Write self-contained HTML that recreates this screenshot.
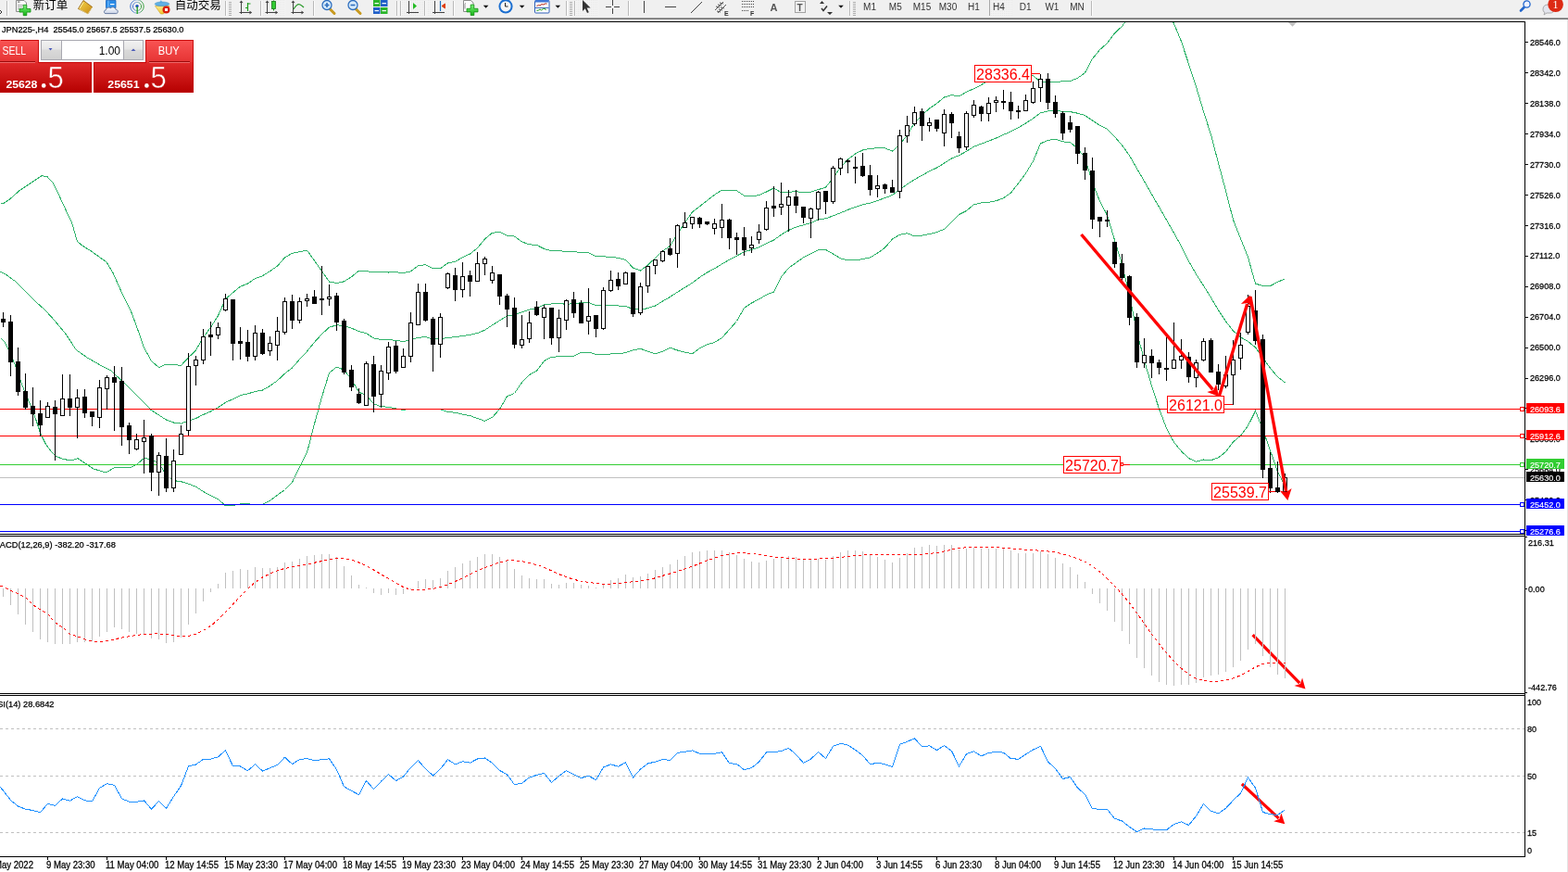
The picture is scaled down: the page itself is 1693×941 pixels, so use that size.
<!DOCTYPE html><html><head><meta charset="utf-8"><title>JPN225 H4</title>
<style>
html,body{margin:0;padding:0;background:#fff;width:1693px;height:941px;overflow:hidden}
svg{display:block;font-family:'Liberation Sans','Noto Sans CJK SC',sans-serif}
.ax{font-size:9.5px;fill:#000;white-space:pre;stroke:#000;stroke-width:0.25px}
.tf{font-size:10px;fill:#333}
</style></head><body>
<svg width="1693" height="941" viewBox="0 0 1693 941">
<defs>
<linearGradient id="gUp" x1="0" y1="0" x2="0" y2="1"><stop offset="0" stop-color="#f95454"/><stop offset="1" stop-color="#e53232"/></linearGradient>
<linearGradient id="gLo" x1="0" y1="0" x2="0" y2="1"><stop offset="0" stop-color="#e02a2a"/><stop offset="1" stop-color="#b50000"/></linearGradient>
<linearGradient id="gSp" x1="0" y1="0" x2="0" y2="1"><stop offset="0" stop-color="#f2f2f2"/><stop offset="0.45" stop-color="#e6e6e6"/><stop offset="0.5" stop-color="#d9d9d9"/><stop offset="1" stop-color="#d0d0d0"/></linearGradient>
<clipPath id="cMain"><rect x="0" y="24" width="1646" height="552"/></clipPath>
<clipPath id="cMacd"><rect x="0" y="579" width="1646" height="169"/></clipPath>
<clipPath id="cRsi"><rect x="0" y="751" width="1646" height="173"/></clipPath>
<linearGradient id="gGreen" x1="0" y1="0" x2="0" y2="1"><stop offset="0" stop-color="#7cf07c"/><stop offset="1" stop-color="#14b414"/></linearGradient>
<linearGradient id="gGold" x1="0" y1="0" x2="1" y2="1"><stop offset="0" stop-color="#f7d84a"/><stop offset="1" stop-color="#c98a16"/></linearGradient>
<linearGradient id="gCloud" x1="0" y1="0" x2="0" y2="1"><stop offset="0" stop-color="#ffffff"/><stop offset="1" stop-color="#c9d3e6"/></linearGradient>
<linearGradient id="gSig" x1="0" y1="0" x2="1" y2="0"><stop offset="0" stop-color="#3a6fd0"/><stop offset="0.5" stop-color="#9ab8d8"/><stop offset="1" stop-color="#3aa03a"/></linearGradient>
<linearGradient id="gYel" x1="0" y1="0" x2="0" y2="1"><stop offset="0" stop-color="#fbe98a"/><stop offset="1" stop-color="#f2c630"/></linearGradient>
<linearGradient id="gLoU" gradientUnits="userSpaceOnUse" x1="0" y1="67" x2="0" y2="100"><stop offset="0" stop-color="#e02a2a"/><stop offset="1" stop-color="#b50000"/></linearGradient>
<pattern id="pDot" width="2" height="2" patternUnits="userSpaceOnUse"><rect width="2" height="2" fill="#f3f3f3"/><rect width="1" height="1" fill="#e8e8e8"/></pattern>
</defs>

<rect x="0" y="0" width="1693" height="19" fill="#f0f0f0"/>
<rect x="0" y="19" width="1693" height="1" fill="#a0a0a0"/><rect x="0" y="20" width="1693" height="1" fill="#6e6e6e"/>
<rect x="1692" y="21" width="1" height="920" fill="#e3e3e3"/>
<path d="M0 11l2 2-2 2" stroke="#333" fill="none" stroke-width="1"/>
<rect x="7" y="1" width="1" height="16" fill="#b9b9b9"/><rect x="8" y="1" width="1" height="16" fill="#fdfdfd"/>
<g><path d="M17.5 0.5h8.5l2.5 2.5v9.5h-11z" fill="#fbfbfb" stroke="#8c8c8c"/><rect x="19" y="1.5" width="2.5" height="1.2" fill="#777"/><rect x="19" y="5" width="6" height="0.9" fill="#999"/><rect x="19" y="7" width="5" height="0.9" fill="#999"/><rect x="19" y="9" width="3" height="0.9" fill="#999"/><path d="M21 9.5h4.2v-4.2h3.6v4.2h4.2v3.6h-4.2v3.6h-3.6v-3.6h-4.2z" fill="url(#gGreen)" stroke="#0f8f0f" stroke-width="0.8"/></g>
<text x="35.8" y="9.8" font-size="12.5px" fill="#000" font-family="'Liberation Sans','Noto Sans CJK SC',sans-serif">新订单</text>
<path d="M84.5 9.5L90 0.5L99.5 7.5L95 14.8Z" fill="url(#gGold)" stroke="#9a6410" stroke-width="0.9" stroke-linejoin="round"/><path d="M85.5 9.8l9.3 5.2 4.8-7" fill="none" stroke="#f3e3a0" stroke-width="0.8"/><path d="M86 9l4-6.5" stroke="#fff3b0" stroke-width="1"/>
<path d="M114.5 0.5h10.5v8h-10.5z" fill="#2b8de8" stroke="#1866c0" stroke-width="0.8"/><path d="M117 0.5v8" stroke="#7fc0ff" stroke-width="1"/><rect x="119" y="4" width="4.5" height="1.2" fill="#fff"/><path d="M114 14.6c-2 0-2.3-3.6 0.3-3.8c0.3-2.2 3-3.6 5-2.1c1.8-1.6 5.2-1 5.6 1.6c2.6-0.2 3.4 3.9 0.6 4.3z" fill="url(#gCloud)" stroke="#5a6f98" stroke-width="0.9"/>
<circle cx="148" cy="7" r="7.2" fill="none" stroke="url(#gSig)" stroke-width="1"/><circle cx="148" cy="7" r="4.6" fill="none" stroke="url(#gSig)" stroke-width="1"/><circle cx="148" cy="6.6" r="1.7" fill="#1d4fc0"/><path d="M148.2 7v8" stroke="#1ea01e" stroke-width="1.3"/>
<path d="M167.5 6.5h15.5l-6.5 8.5h-3z" fill="url(#gYel)" stroke="#c8a020" stroke-width="0.6"/><path d="M171.5 4l2.3-4 2.5 4z" fill="#6cb8e8"/><ellipse cx="175" cy="4.3" rx="7.8" ry="2.3" fill="#5fb0e4" stroke="#3a8ac0" stroke-width="0.5"/><circle cx="179.5" cy="10.5" r="4" fill="#d8200c"/><rect x="178" y="9" width="3" height="3" fill="#fff"/>
<text x="188.8" y="9.8" font-size="12.5px" fill="#000" font-family="'Liberation Sans','Noto Sans CJK SC',sans-serif">自动交易</text>
<rect x="243" y="1" width="1" height="16" fill="#b9b9b9"/><rect x="244" y="1" width="1" height="16" fill="#fdfdfd"/>
<rect x="247" y="2" width="3" height="1" fill="#b0b0b0"/>
<rect x="247" y="4" width="3" height="1" fill="#b0b0b0"/>
<rect x="247" y="6" width="3" height="1" fill="#b0b0b0"/>
<rect x="247" y="8" width="3" height="1" fill="#b0b0b0"/>
<rect x="247" y="10" width="3" height="1" fill="#b0b0b0"/>
<rect x="247" y="12" width="3" height="1" fill="#b0b0b0"/>
<rect x="247" y="14" width="3" height="1" fill="#b0b0b0"/>
<rect x="247" y="16" width="3" height="1" fill="#b0b0b0"/>
<path d="M260.5 1v14M258.5 13.5h13" stroke="#444" stroke-width="1" fill="none"/><path d="M260.5 0.5l-2 2.5h4z M272 13.5l-2.5-2v4z" fill="#444"/>
<path d="M267.5 3v9M265 8.5h2.5M267.5 4h3" stroke="#1a9a1a" stroke-width="1.2" fill="none"/>
<rect x="281" y="1" width="1" height="16" fill="#b9b9b9"/><rect x="282" y="1" width="1" height="16" fill="#fdfdfd"/>
<rect x="283" y="0" width="25" height="17" fill="url(#pDot)"/>
<path d="M288.5 1v14M286.5 13.5h13" stroke="#444" stroke-width="1" fill="none"/><path d="M288.5 0.5l-2 2.5h4z M300 13.5l-2.5-2v4z" fill="#444"/>
<path d="M295.5 0.5v11" stroke="#1a8a1a"/><rect x="293.5" y="1.5" width="4" height="8" fill="#33cc33" stroke="#187818" stroke-width="0.8"/>
<path d="M316.5 1v14M314.5 13.5h13" stroke="#444" stroke-width="1" fill="none"/><path d="M316.5 0.5l-2 2.5h4z M328 13.5l-2.5-2v4z" fill="#444"/>
<path d="M317 10c3-5 5-6 7-5s3 2 4 3" stroke="#2a9a2a" stroke-width="1.2" fill="none"/>
<rect x="338" y="1" width="1" height="16" fill="#b9b9b9"/><rect x="339" y="1" width="1" height="16" fill="#fdfdfd"/>
<path d="M356 9.5l5 5" stroke="#c89a20" stroke-width="3" stroke-linecap="round"/><circle cx="353" cy="5.5" r="5" fill="#d8ecfb" stroke="#2f6fbf" stroke-width="1.3"/><path d="M350.5 5.5h5" stroke="#2f6fbf" stroke-width="1.6"/><path d="M353 3v5" stroke="#2f6fbf" stroke-width="1.6"/>
<path d="M384 9.5l5 5" stroke="#c89a20" stroke-width="3" stroke-linecap="round"/><circle cx="381" cy="5.5" r="5" fill="#d8ecfb" stroke="#2f6fbf" stroke-width="1.3"/><path d="M378.5 5.5h5" stroke="#2f6fbf" stroke-width="1.6"/>
<rect x="403" y="0" width="7.5" height="7" fill="#2bb52b"/><rect x="411" y="0" width="7.5" height="7" fill="#2160c8"/><rect x="403" y="8" width="7.5" height="7" fill="#2160c8"/><rect x="411" y="8" width="7.5" height="7" fill="#2bb52b"/><rect x="404.5" y="3" width="4.5" height="1.2" fill="#fff"/><rect x="412.5" y="3" width="4.5" height="1.2" fill="#fff"/><rect x="404.5" y="11" width="4.5" height="1.2" fill="#fff"/><rect x="412.5" y="11" width="4.5" height="1.2" fill="#fff"/>
<rect x="428" y="1" width="1" height="16" fill="#b9b9b9"/><rect x="429" y="1" width="1" height="16" fill="#fdfdfd"/>
<rect x="434" y="0" width="23" height="17" fill="url(#pDot)"/><rect x="461" y="0" width="25" height="17" fill="url(#pDot)"/>
<rect x="432" y="1" width="1" height="16" fill="#b9b9b9"/><rect x="433" y="1" width="1" height="16" fill="#fdfdfd"/>
<rect x="458" y="1" width="1" height="16" fill="#b9b9b9"/><rect x="459" y="1" width="1" height="16" fill="#fdfdfd"/>
<path d="M441.5 1v14M439 13.5h13" stroke="#444" fill="none"/><path d="M446 3v7l4-3.5z" fill="#22bb22"/>
<path d="M469.5 1v14M467 13.5h13" stroke="#444" fill="none"/><path d="M475.5 1v11" stroke="#1c6fc0" stroke-width="1.2"/><path d="M477 6.5l3.5-2.5v5z M477 6.5h3.5" fill="#e04010" stroke="#e04010"/>
<rect x="489" y="1" width="1" height="16" fill="#b9b9b9"/><rect x="490" y="1" width="1" height="16" fill="#fdfdfd"/>
<path d="M500.5 0.5h8l2.5 2.5v9.5h-10.5z" fill="#fbfbfb" stroke="#8c8c8c"/><path d="M503 3.5c-1 0-1 1-1 2v4" stroke="#777" stroke-width="0.8" fill="none"/><path d="M504 9.3h4.2v-4.2h3.6v4.2h4.2v3.6h-4.2v3.6h-3.6v-3.6h-4.2z" fill="url(#gGreen)" stroke="#0f8f0f" stroke-width="0.8"/>
<path d="M521.8000000000001 5.8h5.6l-2.8 3z" fill="#111"/>
<circle cx="546" cy="6.8" r="7.6" fill="#1c6fd0"/><circle cx="546" cy="6.8" r="5.6" fill="#f6f6f6"/><path d="M545.5 3v4h3" stroke="#222" stroke-width="1" fill="none"/><rect x="545" y="-1" width="2" height="1.5" fill="#1c6fd0"/>
<path d="M560.8000000000001 5.8h5.6l-2.8 3z" fill="#111"/>
<rect x="577.5" y="0.5" width="15.5" height="13.5" rx="1" fill="#fff" stroke="#2f5fb8"/><rect x="578" y="0" width="14.5" height="2.5" fill="#3f78d8"/><path d="M578 8.5h14.5" stroke="#2f5fb8" stroke-width="0.9"/><path d="M579.5 6.5l2-1 1.5 0.5 2-1.5 1.5 0.5 2-1 2 0" stroke="#b02010" fill="none" stroke-width="1"/><path d="M579.5 11.5l2-0.5 1.5-1 1.5 1 2-1.5 1.5-0.5 1.5 2" stroke="#1a9a1a" fill="none" stroke-width="1"/>
<path d="M599.5 5.8h5.6l-2.8 3z" fill="#111"/>
<rect x="611" y="1" width="1" height="16" fill="#b9b9b9"/><rect x="612" y="1" width="1" height="16" fill="#fdfdfd"/>
<rect x="615" y="2" width="3" height="1" fill="#b0b0b0"/>
<rect x="615" y="4" width="3" height="1" fill="#b0b0b0"/>
<rect x="615" y="6" width="3" height="1" fill="#b0b0b0"/>
<rect x="615" y="8" width="3" height="1" fill="#b0b0b0"/>
<rect x="615" y="10" width="3" height="1" fill="#b0b0b0"/>
<rect x="615" y="12" width="3" height="1" fill="#b0b0b0"/>
<rect x="615" y="14" width="3" height="1" fill="#b0b0b0"/>
<rect x="615" y="16" width="3" height="1" fill="#b0b0b0"/>
<rect x="620" y="1" width="1" height="16" fill="#b9b9b9"/><rect x="621" y="1" width="1" height="16" fill="#fdfdfd"/>
<rect x="622" y="0" width="24" height="17" fill="url(#pDot)"/>
<path d="M629 0v12l2.8-2.8 2.2 4.8 1.8-0.8-2.2-4.6h4z" fill="#333"/>
<path d="M661.5 0v15M654 7.5h15" stroke="#444" fill="none"/><rect x="660" y="6" width="3" height="3" fill="#f0f0f0"/>
<rect x="678" y="1" width="1" height="16" fill="#b9b9b9"/><rect x="679" y="1" width="1" height="16" fill="#fdfdfd"/>
<path d="M695.5 1v13" stroke="#444"/><path d="M718 7.5h12" stroke="#444"/><path d="M746 14l12-12" stroke="#444"/>
<path d="M772 11l9-9M775 14l9-9M773 7l4 1M775 5l4 1M777 3l4 1M774 12l4 1M776 10l4 1M778 8l4 1" stroke="#444" fill="none" stroke-width="0.9"/><text x="782" y="16.5" font-size="7px" font-weight="bold" fill="#333">E</text>
<path d="M801 1.5h13M801 4.5h13M801 7.5h13M801 11.5h8" stroke="#444" stroke-dasharray="1 1" fill="none"/><text x="810" y="16.5" font-size="7px" font-weight="bold" fill="#333">F</text>
<text x="831.5" y="11.5" font-size="11px" font-weight="bold" fill="#555">A</text>
<rect x="858.5" y="1.5" width="11" height="12" fill="none" stroke="#555" stroke-dasharray="1 1"/><text x="860.5" y="11.5" font-size="10px" font-weight="bold" fill="#555">T</text>
<path d="M885 4l2.5-3 2.5 3z M893 13l3 3 3-3z" fill="#333"/><path d="M887 9l2 2.5 4-5" stroke="#333" stroke-width="1.5" fill="none"/><path d="M887.5 4.5l0 0" stroke="#333"/>
<path d="M905.2 5.8h5.6l-2.8 3z" fill="#111"/>
<rect x="917" y="1" width="1" height="16" fill="#b9b9b9"/><rect x="918" y="1" width="1" height="16" fill="#fdfdfd"/>
<rect x="921" y="2" width="3" height="1" fill="#b0b0b0"/>
<rect x="921" y="4" width="3" height="1" fill="#b0b0b0"/>
<rect x="921" y="6" width="3" height="1" fill="#b0b0b0"/>
<rect x="921" y="8" width="3" height="1" fill="#b0b0b0"/>
<rect x="921" y="10" width="3" height="1" fill="#b0b0b0"/>
<rect x="921" y="12" width="3" height="1" fill="#b0b0b0"/>
<rect x="921" y="14" width="3" height="1" fill="#b0b0b0"/>
<rect x="921" y="16" width="3" height="1" fill="#b0b0b0"/>
<rect x="1068" y="0" width="1" height="17" fill="#a8a8a8"/><rect x="1069" y="0" width="24" height="17" fill="url(#pDot)"/>
<text class="tf" x="939" y="11" text-anchor="middle">M1</text>
<text class="tf" x="966.8" y="11" text-anchor="middle">M5</text>
<text class="tf" x="995.5" y="11" text-anchor="middle">M15</text>
<text class="tf" x="1023.5" y="11" text-anchor="middle">M30</text>
<text class="tf" x="1051.4" y="11" text-anchor="middle">H1</text>
<text class="tf" x="1078.5" y="11" text-anchor="middle">H4</text>
<text class="tf" x="1107.2" y="11" text-anchor="middle">D1</text>
<text class="tf" x="1135.9" y="11" text-anchor="middle">W1</text>
<text class="tf" x="1163" y="11" text-anchor="middle">MN</text>
<rect x="1178" y="1" width="1" height="16" fill="#b9b9b9"/><rect x="1179" y="1" width="1" height="16" fill="#fdfdfd"/>
<path d="M1642 11.5l3.5-3.5" stroke="#2266cc" stroke-width="2.6" stroke-linecap="round"/><circle cx="1648.5" cy="4.5" r="3.6" fill="#eef2ff" stroke="#2266cc" stroke-width="1.3"/>
<path d="M1666 10c0-3 2-5 5-5h3c3 0 4 2 4 5s-2 4-4 4h-4l-3 2 1-2.5c-1.5-0.5-2-2-2-3.5z" fill="#e4e6ee" stroke="#9a9a9a" stroke-width="0.8"/>
<circle cx="1679.6" cy="4.8" r="8.3" fill="#dd2a14"/><text x="1679.6" y="9" font-size="12px" fill="#fff" text-anchor="middle" font-family="'Liberation Serif',serif">1</text>
<g shape-rendering="crispEdges">
<rect x="0" y="23" width="1647" height="1" fill="#000"/>
<rect x="1646" y="23" width="1" height="902" fill="#000"/>
<rect x="0" y="576" width="1647" height="1" fill="#000"/>
<rect x="0" y="578" width="1647" height="1" fill="#000"/>
<rect x="0" y="748" width="1647" height="1" fill="#000"/>
<rect x="0" y="750" width="1647" height="1" fill="#000"/>
<rect x="0" y="924" width="1647" height="1" fill="#000"/>
</g>
<g fill="none" stroke="#2fb36a" stroke-width="1" clip-path="url(#cMain)" shape-rendering="crispEdges">
<polyline points="0.5,220.2 4.0,219.3 11.0,214.6 21.5,205.3 35.6,195.9 44.9,189.8 50.8,190.5 56.6,196.4 63.6,210.4 70.6,225.6 77.7,240.8 83.5,260.7 89.3,265.3 98.7,271.2 115.1,282.9 122.1,294.6 131.4,315.6 140.8,334.3 147.8,353.0 155.5,375.2 163.5,389.6 171.5,396.5 179.5,393.1 187.5,393.4 195.5,394.4 203.5,385.8 211.5,377.9 219.5,364.2 227.5,353.2 235.5,340.6 243.5,322.8 251.5,315.7 259.5,309.2 267.5,306.1 275.5,300.5 283.5,297.7 291.5,292.6 299.5,287.1 307.5,277.9 315.5,273.3 323.5,271.7 331.5,270.2 339.5,281.2 347.5,292.7 355.5,304.0 363.5,305.5 371.5,303.8 379.5,298.7 387.5,292.2 395.5,292.5 403.5,294.0 411.5,293.9 419.5,294.0 427.5,293.7 435.5,294.7 443.5,292.8 451.5,286.8 459.5,285.7 467.5,290.0 475.5,289.7 483.5,283.9 491.5,282.4 499.5,277.5 507.5,274.1 515.5,267.6 523.5,257.9 531.5,251.3 539.5,250.3 547.5,254.1 555.5,255.1 563.5,260.9 571.5,263.8 579.5,264.4 587.5,268.5 595.5,270.6 603.5,270.7 611.5,271.4 619.5,271.3 627.5,272.9 635.5,272.9 643.5,276.7 651.5,276.8 659.5,277.5 667.5,278.3 675.5,280.4 683.5,289.1 691.5,292.0 699.5,286.1 707.5,278.3 715.5,271.0 723.5,265.4 731.5,252.3 739.5,240.3 747.5,228.9 755.5,222.7 763.5,216.4 771.5,210.2 779.5,205.0 787.5,205.0 795.5,205.8 803.5,211.2 811.5,211.8 819.5,210.7 827.5,207.0 835.5,203.0 843.5,207.7 851.5,207.4 859.5,206.6 867.5,207.7 875.5,207.2 883.5,204.6 891.5,202.3 899.5,191.9 907.5,180.7 915.5,171.9 923.5,165.9 931.5,162.0 939.5,160.4 947.5,159.7 955.5,159.9 963.5,163.1 971.5,155.9 979.5,145.9 987.5,132.3 995.5,124.4 1003.5,117.0 1011.5,111.6 1019.5,105.0 1027.5,102.6 1035.5,103.8 1043.5,99.3 1051.5,95.6 1059.5,91.6 1067.5,86.3 1075.5,81.2 1083.5,77.2 1091.5,75.9 1099.5,77.6 1107.5,79.1 1115.5,81.6 1123.5,88.6 1131.5,88.4 1139.5,88.4 1147.5,87.8 1155.5,87.6 1163.5,84.3 1171.5,78.5 1179.5,63.4 1187.5,53.7 1195.5,46.5 1203.5,35.8 1211.5,28.4 1219.5,17.4 1227.5,5.4 1235.5,2.1 1243.5,2.7 1251.5,5.8 1259.5,12.4 1267.5,25.4 1275.5,44.7 1283.5,69.1 1291.5,93.6 1299.5,120.4 1307.5,145.4 1315.5,176.0 1323.5,206.0 1331.5,237.2 1339.5,257.6 1347.5,277.5 1355.5,306.2 1363.5,308.4 1371.5,308.5 1379.5,304.4 1387.5,300.7"/>
<polyline points="0.5,293.4 7.5,296.9 16.9,303.9 28.6,315.6 39.1,326.1 49.6,335.5 59.0,346.0 70.6,360.0 82.3,377.6 94.0,385.8 108.1,393.9 119.7,399.8 134.7,414.0 151.7,431.0 155.5,434.7 163.5,442.8 171.5,447.9 179.5,453.1 187.5,456.0 195.5,457.1 203.5,454.0 211.5,451.5 219.5,447.4 227.5,444.0 235.5,439.7 243.5,434.3 251.5,430.6 259.5,426.6 267.5,424.9 275.5,422.5 283.5,421.0 291.5,416.5 299.5,410.7 307.5,403.2 315.5,396.9 323.5,387.7 331.5,379.2 339.5,369.3 347.5,360.6 355.5,353.2 363.5,350.8 371.5,351.4 379.5,354.1 387.5,357.7 395.5,359.6 403.5,364.9 411.5,366.4 419.5,366.6 427.5,367.3 435.5,368.6 443.5,367.0 451.5,364.3 459.5,363.6 467.5,365.9 475.5,365.8 483.5,364.3 491.5,363.8 499.5,362.4 507.5,361.4 515.5,359.5 523.5,356.2 531.5,350.8 539.5,345.9 547.5,340.9 555.5,339.8 563.5,336.8 571.5,334.1 579.5,332.4 587.5,329.0 595.5,328.0 603.5,327.7 611.5,328.2 619.5,327.8 627.5,326.6 635.5,326.6 643.5,329.5 651.5,329.6 659.5,329.8 667.5,330.0 675.5,330.5 683.5,333.5 691.5,334.2 699.5,332.6 707.5,330.0 715.5,325.0 723.5,320.4 731.5,315.2 739.5,310.2 747.5,305.3 755.5,299.2 763.5,294.0 771.5,289.9 779.5,284.9 787.5,280.3 795.5,276.1 803.5,271.8 811.5,269.4 819.5,266.8 827.5,262.6 835.5,259.1 843.5,253.2 851.5,248.4 859.5,245.1 867.5,242.8 875.5,240.5 883.5,237.1 891.5,235.8 899.5,232.9 907.5,229.8 915.5,226.4 923.5,223.4 931.5,220.8 939.5,219.2 947.5,216.4 955.5,213.6 963.5,210.5 971.5,204.6 979.5,198.8 987.5,193.7 995.5,189.2 1003.5,184.8 1011.5,181.1 1019.5,176.1 1027.5,171.0 1035.5,167.7 1043.5,163.4 1051.5,158.2 1059.5,155.2 1067.5,152.2 1075.5,149.0 1083.5,145.4 1091.5,141.9 1099.5,137.8 1107.5,133.1 1115.5,127.8 1123.5,121.7 1131.5,119.9 1139.5,119.3 1147.5,120.3 1155.5,120.6 1163.5,122.2 1171.5,124.5 1179.5,130.1 1187.5,135.4 1195.5,139.4 1203.5,147.5 1211.5,156.8 1219.5,167.8 1227.5,181.8 1235.5,195.5 1243.5,209.6 1251.5,223.4 1259.5,237.3 1267.5,251.3 1275.5,265.8 1283.5,281.8 1291.5,295.9 1299.5,308.2 1307.5,321.1 1315.5,334.9 1323.5,346.8 1331.5,357.1 1339.5,363.8 1347.5,368.5 1355.5,374.9 1363.5,386.0 1371.5,397.3 1379.5,406.7 1387.5,413.0"/>
<polyline points="0.5,364.6 5.0,369.0 9.4,378.0 13.9,388.0 18.4,399.2 22.8,412.6 27.3,423.8 32.9,437.1 38.4,451.7 44.0,468.4 49.6,479.6 56.3,488.5 60.8,492.5 67.5,495.2 76.4,497.0 84.2,494.7 89.8,498.5 100.7,505.8 114.3,510.0 124.5,504.1 141.5,504.1 148.3,500.7 155.5,494.3 163.5,496.1 171.5,499.3 179.5,513.1 187.5,518.6 195.5,519.7 203.5,522.1 211.5,525.2 219.5,530.5 227.5,534.7 235.5,538.7 243.5,545.8 251.5,545.4 259.5,544.0 267.5,543.7 275.5,544.6 283.5,544.3 291.5,540.4 299.5,534.2 307.5,528.5 315.5,520.5 323.5,503.7 331.5,488.3 339.5,457.4 347.5,428.4 355.5,402.4 363.5,396.1 371.5,399.1 379.5,409.5 387.5,423.1 395.5,426.7 403.5,435.7 411.5,438.9 419.5,439.1 427.5,441.0 435.5,442.5 443.5,441.1 451.5,441.7 459.5,441.5 467.5,441.9 475.5,441.9 483.5,444.6 491.5,445.2 499.5,447.2 507.5,448.6 515.5,451.5 523.5,454.4 531.5,450.4 539.5,441.5 547.5,427.6 555.5,424.5 563.5,412.7 571.5,404.5 579.5,400.3 587.5,389.5 595.5,385.3 603.5,384.8 611.5,385.0 619.5,384.2 627.5,380.3 635.5,380.2 643.5,382.3 651.5,382.3 659.5,382.0 667.5,381.8 675.5,380.7 683.5,377.8 691.5,376.3 699.5,379.1 707.5,381.7 715.5,379.1 723.5,375.3 731.5,378.0 739.5,380.1 747.5,381.8 755.5,375.6 763.5,371.7 771.5,369.5 779.5,364.7 787.5,355.6 795.5,346.5 803.5,332.5 811.5,327.0 819.5,322.9 827.5,318.1 835.5,315.1 843.5,298.7 851.5,289.3 859.5,283.5 867.5,277.8 875.5,273.7 883.5,269.7 891.5,269.4 899.5,274.0 907.5,278.8 915.5,280.9 923.5,280.9 931.5,279.6 939.5,277.9 947.5,273.1 955.5,267.3 963.5,258.0 971.5,253.3 979.5,251.7 987.5,255.0 995.5,254.1 1003.5,252.6 1011.5,250.5 1019.5,247.3 1027.5,239.4 1035.5,231.5 1043.5,227.5 1051.5,220.8 1059.5,218.9 1067.5,218.2 1075.5,216.8 1083.5,213.7 1091.5,208.0 1099.5,197.9 1107.5,187.2 1115.5,173.9 1123.5,154.8 1131.5,151.5 1139.5,150.1 1147.5,152.9 1155.5,153.6 1163.5,160.2 1171.5,170.4 1179.5,196.8 1187.5,217.2 1195.5,232.3 1203.5,259.1 1211.5,285.2 1219.5,318.3 1227.5,358.1 1235.5,388.9 1243.5,416.4 1251.5,441.1 1259.5,462.3 1267.5,477.3 1275.5,486.9 1283.5,494.6 1291.5,498.2 1299.5,496.0 1307.5,496.8 1315.5,493.7 1323.5,487.6 1331.5,476.9 1339.5,470.1 1347.5,459.4 1355.5,443.5 1363.5,463.6 1371.5,486.2 1379.5,509.0 1387.5,525.2"/>
</g>
<g shape-rendering="crispEdges">
<rect x="0" y="515" width="1641" height="1" fill="#c0c0c0"/>
<rect x="1641" y="515" width="5" height="1" fill="#c0c0c0"/>
<rect x="0" y="441" width="1641" height="1" fill="#ff0000"/>
<rect x="1641.5" y="439.5" width="4" height="4" fill="#fff" stroke="#ff0000"/>
<rect x="0" y="470" width="1641" height="1" fill="#ff0000"/>
<rect x="1641.5" y="468.5" width="4" height="4" fill="#fff" stroke="#ff0000"/>
<rect x="0" y="501" width="1641" height="1" fill="#32cd32"/>
<rect x="1641.5" y="499.5" width="4" height="4" fill="#fff" stroke="#32cd32"/>
<rect x="0" y="544" width="1641" height="1" fill="#0000ff"/>
<rect x="1641.5" y="542.5" width="4" height="4" fill="#fff" stroke="#0000ff"/>
<rect x="0" y="573" width="1641" height="1" fill="#0000ff"/>
<rect x="1641.5" y="571.5" width="4" height="4" fill="#fff" stroke="#0000ff"/>
</g>
<g shape-rendering="crispEdges">
<rect x="3" y="337" width="1" height="16" fill="#000"/>
<rect x="1" y="344" width="5" height="4" fill="#000"/>
<rect x="11" y="340" width="1" height="66" fill="#000"/>
<rect x="9" y="347" width="5" height="44" fill="#000"/>
<rect x="19" y="375" width="1" height="52" fill="#000"/>
<rect x="17" y="390" width="5" height="33" fill="#000"/>
<rect x="27" y="403" width="1" height="39" fill="#000"/>
<rect x="25" y="422" width="5" height="18" fill="#000"/>
<rect x="35" y="418" width="1" height="42" fill="#000"/>
<rect x="33" y="438" width="5" height="9" fill="#000"/>
<rect x="43" y="432" width="1" height="39" fill="#000"/>
<rect x="41" y="446" width="5" height="13" fill="#000"/>
<rect x="51" y="434" width="1" height="17" fill="#000"/>
<rect x="49.5" y="438.5" width="4" height="12" fill="#fff" stroke="#000"/>
<rect x="59" y="432" width="1" height="65" fill="#000"/>
<rect x="57" y="439" width="5" height="8" fill="#000"/>
<rect x="67" y="404" width="1" height="45" fill="#000"/>
<rect x="65.5" y="430.5" width="4" height="18" fill="#fff" stroke="#000"/>
<rect x="75" y="404" width="1" height="45" fill="#000"/>
<rect x="73" y="430" width="5" height="10" fill="#000"/>
<rect x="83" y="420" width="1" height="53" fill="#000"/>
<rect x="81.5" y="429.5" width="4" height="10" fill="#fff" stroke="#000"/>
<rect x="91" y="420" width="1" height="31" fill="#000"/>
<rect x="89" y="428" width="5" height="18" fill="#000"/>
<rect x="99" y="444" width="1" height="16" fill="#000"/>
<rect x="97" y="444" width="5" height="6" fill="#000"/>
<rect x="107" y="410" width="1" height="52" fill="#000"/>
<rect x="105.5" y="418.5" width="4" height="32" fill="#fff" stroke="#000"/>
<rect x="115" y="405" width="1" height="37" fill="#000"/>
<rect x="113.5" y="407.5" width="4" height="12" fill="#fff" stroke="#000"/>
<rect x="123" y="395" width="1" height="70" fill="#000"/>
<rect x="121" y="407" width="5" height="6" fill="#000"/>
<rect x="131" y="396" width="1" height="85" fill="#000"/>
<rect x="129" y="411" width="5" height="50" fill="#000"/>
<rect x="139" y="456" width="1" height="34" fill="#000"/>
<rect x="137" y="459" width="5" height="16" fill="#000"/>
<rect x="147" y="468" width="1" height="18" fill="#000"/>
<rect x="145.5" y="474.5" width="4" height="10" fill="#fff" stroke="#000"/>
<rect x="155" y="453" width="1" height="58" fill="#000"/>
<rect x="153.5" y="472.5" width="4" height="4" fill="#fff" stroke="#000"/>
<rect x="163" y="468" width="1" height="62" fill="#000"/>
<rect x="161" y="470" width="5" height="40" fill="#000"/>
<rect x="171" y="488" width="1" height="47" fill="#000"/>
<rect x="169.5" y="491.5" width="4" height="18" fill="#fff" stroke="#000"/>
<rect x="179" y="473" width="1" height="58" fill="#000"/>
<rect x="177" y="492" width="5" height="35" fill="#000"/>
<rect x="187" y="485" width="1" height="46" fill="#000"/>
<rect x="185.5" y="497.5" width="4" height="29" fill="#fff" stroke="#000"/>
<rect x="195" y="459" width="1" height="32" fill="#000"/>
<rect x="193.5" y="468.5" width="4" height="22" fill="#fff" stroke="#000"/>
<rect x="203" y="381" width="1" height="89" fill="#000"/>
<rect x="201.5" y="395.5" width="4" height="69" fill="#fff" stroke="#000"/>
<rect x="211" y="384" width="1" height="32" fill="#000"/>
<rect x="209.5" y="388.5" width="4" height="6" fill="#fff" stroke="#000"/>
<rect x="219" y="355" width="1" height="38" fill="#000"/>
<rect x="217.5" y="363.5" width="4" height="25" fill="#fff" stroke="#000"/>
<rect x="227" y="347" width="1" height="37" fill="#000"/>
<rect x="225" y="361" width="5" height="3" fill="#000"/>
<rect x="235" y="348" width="1" height="18" fill="#000"/>
<rect x="233.5" y="353.5" width="4" height="8" fill="#fff" stroke="#000"/>
<rect x="243" y="317" width="1" height="19" fill="#000"/>
<rect x="241.5" y="322.5" width="4" height="12" fill="#fff" stroke="#000"/>
<rect x="251" y="323" width="1" height="66" fill="#000"/>
<rect x="249" y="323" width="5" height="48" fill="#000"/>
<rect x="259" y="353" width="1" height="35" fill="#000"/>
<rect x="257" y="368" width="5" height="3" fill="#000"/>
<rect x="267" y="356" width="1" height="34" fill="#000"/>
<rect x="265" y="369" width="5" height="16" fill="#000"/>
<rect x="275" y="351" width="1" height="38" fill="#000"/>
<rect x="273.5" y="359.5" width="4" height="25" fill="#fff" stroke="#000"/>
<rect x="283" y="355" width="1" height="28" fill="#000"/>
<rect x="281" y="359" width="5" height="23" fill="#000"/>
<rect x="291" y="363" width="1" height="21" fill="#000"/>
<rect x="289.5" y="370.5" width="4" height="8" fill="#fff" stroke="#000"/>
<rect x="299" y="342" width="1" height="47" fill="#000"/>
<rect x="297.5" y="357.5" width="4" height="15" fill="#fff" stroke="#000"/>
<rect x="307" y="321" width="1" height="40" fill="#000"/>
<rect x="305.5" y="325.5" width="4" height="33" fill="#fff" stroke="#000"/>
<rect x="315" y="318" width="1" height="37" fill="#000"/>
<rect x="313" y="325" width="5" height="21" fill="#000"/>
<rect x="323" y="321" width="1" height="28" fill="#000"/>
<rect x="321.5" y="325.5" width="4" height="20" fill="#fff" stroke="#000"/>
<rect x="331" y="317" width="1" height="14" fill="#000"/>
<rect x="329.5" y="322.5" width="4" height="2" fill="#fff" stroke="#000"/>
<rect x="339" y="313" width="1" height="15" fill="#000"/>
<rect x="337" y="320" width="5" height="8" fill="#000"/>
<rect x="347" y="287" width="1" height="53" fill="#000"/>
<rect x="345" y="322" width="5" height="2" fill="#000"/>
<rect x="355" y="307" width="1" height="23" fill="#000"/>
<rect x="353.5" y="320.5" width="4" height="2" fill="#fff" stroke="#000"/>
<rect x="363" y="316" width="1" height="41" fill="#000"/>
<rect x="361" y="319" width="5" height="29" fill="#000"/>
<rect x="371" y="344" width="1" height="60" fill="#000"/>
<rect x="369" y="346" width="5" height="56" fill="#000"/>
<rect x="379" y="394" width="1" height="28" fill="#000"/>
<rect x="377" y="399" width="5" height="19" fill="#000"/>
<rect x="387" y="419" width="1" height="17" fill="#000"/>
<rect x="385" y="425" width="5" height="10" fill="#000"/>
<rect x="395" y="390" width="1" height="48" fill="#000"/>
<rect x="393.5" y="392.5" width="4" height="45" fill="#fff" stroke="#000"/>
<rect x="403" y="384" width="1" height="61" fill="#000"/>
<rect x="401" y="393" width="5" height="35" fill="#000"/>
<rect x="411" y="394" width="1" height="46" fill="#000"/>
<rect x="409.5" y="400.5" width="4" height="25" fill="#fff" stroke="#000"/>
<rect x="419" y="369" width="1" height="41" fill="#000"/>
<rect x="417.5" y="374.5" width="4" height="28" fill="#fff" stroke="#000"/>
<rect x="427" y="368" width="1" height="35" fill="#000"/>
<rect x="425" y="373" width="5" height="28" fill="#000"/>
<rect x="435" y="376" width="1" height="21" fill="#000"/>
<rect x="433.5" y="384.5" width="4" height="12" fill="#fff" stroke="#000"/>
<rect x="443" y="337" width="1" height="54" fill="#000"/>
<rect x="441.5" y="348.5" width="4" height="36" fill="#fff" stroke="#000"/>
<rect x="451" y="306" width="1" height="45" fill="#000"/>
<rect x="449.5" y="315.5" width="4" height="35" fill="#fff" stroke="#000"/>
<rect x="459" y="306" width="1" height="41" fill="#000"/>
<rect x="457" y="315" width="5" height="31" fill="#000"/>
<rect x="467" y="342" width="1" height="59" fill="#000"/>
<rect x="465" y="344" width="5" height="28" fill="#000"/>
<rect x="475" y="338" width="1" height="48" fill="#000"/>
<rect x="473.5" y="342.5" width="4" height="29" fill="#fff" stroke="#000"/>
<rect x="483" y="294" width="1" height="18" fill="#000"/>
<rect x="481.5" y="295.5" width="4" height="15" fill="#fff" stroke="#000"/>
<rect x="491" y="289" width="1" height="36" fill="#000"/>
<rect x="489" y="297" width="5" height="16" fill="#000"/>
<rect x="499" y="283" width="1" height="38" fill="#000"/>
<rect x="497.5" y="298.5" width="4" height="14" fill="#fff" stroke="#000"/>
<rect x="507" y="292" width="1" height="28" fill="#000"/>
<rect x="505" y="297" width="5" height="7" fill="#000"/>
<rect x="515" y="272" width="1" height="32" fill="#000"/>
<rect x="513.5" y="284.5" width="4" height="19" fill="#fff" stroke="#000"/>
<rect x="523" y="277" width="1" height="20" fill="#000"/>
<rect x="521.5" y="279.5" width="4" height="5" fill="#fff" stroke="#000"/>
<rect x="531" y="287" width="1" height="19" fill="#000"/>
<rect x="529.5" y="294.5" width="4" height="8" fill="#fff" stroke="#000"/>
<rect x="539" y="296" width="1" height="33" fill="#000"/>
<rect x="537" y="296" width="5" height="24" fill="#000"/>
<rect x="547" y="317" width="1" height="36" fill="#000"/>
<rect x="545" y="319" width="5" height="15" fill="#000"/>
<rect x="555" y="321" width="1" height="55" fill="#000"/>
<rect x="553" y="332" width="5" height="40" fill="#000"/>
<rect x="563" y="340" width="1" height="36" fill="#000"/>
<rect x="561.5" y="366.5" width="4" height="6" fill="#fff" stroke="#000"/>
<rect x="571" y="336" width="1" height="34" fill="#000"/>
<rect x="569.5" y="348.5" width="4" height="17" fill="#fff" stroke="#000"/>
<rect x="579" y="325" width="1" height="16" fill="#000"/>
<rect x="577" y="331" width="5" height="9" fill="#000"/>
<rect x="587" y="329" width="1" height="37" fill="#000"/>
<rect x="585.5" y="332.5" width="4" height="10" fill="#fff" stroke="#000"/>
<rect x="595" y="332" width="1" height="40" fill="#000"/>
<rect x="593" y="332" width="5" height="33" fill="#000"/>
<rect x="603" y="334" width="1" height="46" fill="#000"/>
<rect x="601.5" y="343.5" width="4" height="21" fill="#fff" stroke="#000"/>
<rect x="611" y="323" width="1" height="33" fill="#000"/>
<rect x="609.5" y="324.5" width="4" height="21" fill="#fff" stroke="#000"/>
<rect x="619" y="315" width="1" height="28" fill="#000"/>
<rect x="617" y="323" width="5" height="15" fill="#000"/>
<rect x="627" y="324" width="1" height="25" fill="#000"/>
<rect x="625" y="327" width="5" height="22" fill="#000"/>
<rect x="635" y="311" width="1" height="50" fill="#000"/>
<rect x="633.5" y="341.5" width="4" height="5" fill="#fff" stroke="#000"/>
<rect x="643" y="340" width="1" height="24" fill="#000"/>
<rect x="641" y="340" width="5" height="15" fill="#000"/>
<rect x="651" y="310" width="1" height="46" fill="#000"/>
<rect x="649.5" y="313.5" width="4" height="41" fill="#fff" stroke="#000"/>
<rect x="659" y="292" width="1" height="23" fill="#000"/>
<rect x="657.5" y="302.5" width="4" height="11" fill="#fff" stroke="#000"/>
<rect x="667" y="294" width="1" height="19" fill="#000"/>
<rect x="665" y="301" width="5" height="8" fill="#000"/>
<rect x="675" y="293" width="1" height="14" fill="#000"/>
<rect x="673.5" y="294.5" width="4" height="12" fill="#fff" stroke="#000"/>
<rect x="683" y="294" width="1" height="48" fill="#000"/>
<rect x="681" y="294" width="5" height="45" fill="#000"/>
<rect x="691" y="305" width="1" height="35" fill="#000"/>
<rect x="689.5" y="309.5" width="4" height="28" fill="#fff" stroke="#000"/>
<rect x="699" y="287" width="1" height="29" fill="#000"/>
<rect x="697.5" y="287.5" width="4" height="21" fill="#fff" stroke="#000"/>
<rect x="707" y="280" width="1" height="16" fill="#000"/>
<rect x="705.5" y="280.5" width="4" height="6" fill="#fff" stroke="#000"/>
<rect x="715" y="270" width="1" height="13" fill="#000"/>
<rect x="713.5" y="271.5" width="4" height="10" fill="#fff" stroke="#000"/>
<rect x="723" y="257" width="1" height="19" fill="#000"/>
<rect x="721" y="268" width="5" height="7" fill="#000"/>
<rect x="731" y="242" width="1" height="47" fill="#000"/>
<rect x="729.5" y="243.5" width="4" height="30" fill="#fff" stroke="#000"/>
<rect x="739" y="229" width="1" height="17" fill="#000"/>
<rect x="737.5" y="240.5" width="4" height="5" fill="#fff" stroke="#000"/>
<rect x="747" y="234" width="1" height="13" fill="#000"/>
<rect x="745.5" y="234.5" width="4" height="7" fill="#fff" stroke="#000"/>
<rect x="755" y="234" width="1" height="12" fill="#000"/>
<rect x="753" y="235" width="5" height="7" fill="#000"/>
<rect x="763" y="239" width="1" height="4" fill="#000"/>
<rect x="761" y="239" width="5" height="3" fill="#000"/>
<rect x="771" y="236" width="1" height="17" fill="#000"/>
<rect x="769.5" y="241.5" width="4" height="5" fill="#fff" stroke="#000"/>
<rect x="779" y="220" width="1" height="37" fill="#000"/>
<rect x="777.5" y="237.5" width="4" height="8" fill="#fff" stroke="#000"/>
<rect x="787" y="236" width="1" height="33" fill="#000"/>
<rect x="785" y="237" width="5" height="20" fill="#000"/>
<rect x="795" y="251" width="1" height="24" fill="#000"/>
<rect x="793" y="256" width="5" height="3" fill="#000"/>
<rect x="803" y="245" width="1" height="31" fill="#000"/>
<rect x="801" y="256" width="5" height="14" fill="#000"/>
<rect x="811" y="255" width="1" height="18" fill="#000"/>
<rect x="809.5" y="264.5" width="4" height="3" fill="#fff" stroke="#000"/>
<rect x="819" y="242" width="1" height="21" fill="#000"/>
<rect x="817.5" y="250.5" width="4" height="8" fill="#fff" stroke="#000"/>
<rect x="827" y="217" width="1" height="32" fill="#000"/>
<rect x="825.5" y="224.5" width="4" height="23" fill="#fff" stroke="#000"/>
<rect x="835" y="201" width="1" height="33" fill="#000"/>
<rect x="833" y="222" width="5" height="3" fill="#000"/>
<rect x="843" y="197" width="1" height="35" fill="#000"/>
<rect x="841.5" y="220.5" width="4" height="3" fill="#fff" stroke="#000"/>
<rect x="851" y="205" width="1" height="45" fill="#000"/>
<rect x="849.5" y="212.5" width="4" height="9" fill="#fff" stroke="#000"/>
<rect x="859" y="205" width="1" height="25" fill="#000"/>
<rect x="857" y="212" width="5" height="10" fill="#000"/>
<rect x="867" y="223" width="1" height="18" fill="#000"/>
<rect x="865" y="223" width="5" height="12" fill="#000"/>
<rect x="875" y="224" width="1" height="33" fill="#000"/>
<rect x="873.5" y="225.5" width="4" height="10" fill="#fff" stroke="#000"/>
<rect x="883" y="206" width="1" height="32" fill="#000"/>
<rect x="881.5" y="207.5" width="4" height="18" fill="#fff" stroke="#000"/>
<rect x="891" y="206" width="1" height="25" fill="#000"/>
<rect x="889" y="206" width="5" height="12" fill="#000"/>
<rect x="899" y="179" width="1" height="41" fill="#000"/>
<rect x="897.5" y="181.5" width="4" height="36" fill="#fff" stroke="#000"/>
<rect x="907" y="170" width="1" height="19" fill="#000"/>
<rect x="905.5" y="171.5" width="4" height="10" fill="#fff" stroke="#000"/>
<rect x="915" y="172" width="1" height="15" fill="#000"/>
<rect x="913" y="173" width="5" height="2" fill="#000"/>
<rect x="923" y="169" width="1" height="29" fill="#000"/>
<rect x="921" y="180" width="5" height="2" fill="#000"/>
<rect x="931" y="165" width="1" height="26" fill="#000"/>
<rect x="929" y="179" width="5" height="11" fill="#000"/>
<rect x="939" y="178" width="1" height="33" fill="#000"/>
<rect x="937" y="189" width="5" height="16" fill="#000"/>
<rect x="947" y="189" width="1" height="24" fill="#000"/>
<rect x="945.5" y="200.5" width="4" height="3" fill="#fff" stroke="#000"/>
<rect x="955" y="198" width="1" height="11" fill="#000"/>
<rect x="953" y="199" width="5" height="5" fill="#000"/>
<rect x="963" y="194" width="1" height="14" fill="#000"/>
<rect x="961" y="202" width="5" height="6" fill="#000"/>
<rect x="971" y="140" width="1" height="74" fill="#000"/>
<rect x="969.5" y="146.5" width="4" height="60" fill="#fff" stroke="#000"/>
<rect x="979" y="125" width="1" height="29" fill="#000"/>
<rect x="977.5" y="135.5" width="4" height="11" fill="#fff" stroke="#000"/>
<rect x="987" y="115" width="1" height="21" fill="#000"/>
<rect x="985.5" y="121.5" width="4" height="12" fill="#fff" stroke="#000"/>
<rect x="995" y="117" width="1" height="35" fill="#000"/>
<rect x="993" y="120" width="5" height="16" fill="#000"/>
<rect x="1003" y="127" width="1" height="15" fill="#000"/>
<rect x="1001.5" y="132.5" width="4" height="3" fill="#fff" stroke="#000"/>
<rect x="1011" y="129" width="1" height="13" fill="#000"/>
<rect x="1009" y="129" width="5" height="10" fill="#000"/>
<rect x="1019" y="118" width="1" height="40" fill="#000"/>
<rect x="1017.5" y="123.5" width="4" height="20" fill="#fff" stroke="#000"/>
<rect x="1027" y="121" width="1" height="28" fill="#000"/>
<rect x="1025" y="123" width="5" height="10" fill="#000"/>
<rect x="1035" y="142" width="1" height="23" fill="#000"/>
<rect x="1033" y="147" width="5" height="13" fill="#000"/>
<rect x="1043" y="120" width="1" height="42" fill="#000"/>
<rect x="1041.5" y="122.5" width="4" height="36" fill="#fff" stroke="#000"/>
<rect x="1051" y="108" width="1" height="19" fill="#000"/>
<rect x="1049.5" y="113.5" width="4" height="11" fill="#fff" stroke="#000"/>
<rect x="1059" y="114" width="1" height="17" fill="#000"/>
<rect x="1057" y="115" width="5" height="8" fill="#000"/>
<rect x="1067" y="105" width="1" height="26" fill="#000"/>
<rect x="1065.5" y="111.5" width="4" height="11" fill="#fff" stroke="#000"/>
<rect x="1075" y="104" width="1" height="17" fill="#000"/>
<rect x="1073.5" y="108.5" width="4" height="2" fill="#fff" stroke="#000"/>
<rect x="1083" y="97" width="1" height="21" fill="#000"/>
<rect x="1081" y="109" width="5" height="2" fill="#000"/>
<rect x="1091" y="99" width="1" height="30" fill="#000"/>
<rect x="1089" y="110" width="5" height="10" fill="#000"/>
<rect x="1099" y="114" width="1" height="14" fill="#000"/>
<rect x="1097" y="119" width="5" height="2" fill="#000"/>
<rect x="1107" y="102" width="1" height="18" fill="#000"/>
<rect x="1105.5" y="108.5" width="4" height="11" fill="#fff" stroke="#000"/>
<rect x="1115" y="88" width="1" height="24" fill="#000"/>
<rect x="1113.5" y="95.5" width="4" height="15" fill="#fff" stroke="#000"/>
<rect x="1123" y="80" width="1" height="30" fill="#000"/>
<rect x="1121.5" y="85.5" width="4" height="9" fill="#fff" stroke="#000"/>
<rect x="1131" y="79" width="1" height="39" fill="#000"/>
<rect x="1129" y="85" width="5" height="26" fill="#000"/>
<rect x="1139" y="103" width="1" height="24" fill="#000"/>
<rect x="1137" y="110" width="5" height="13" fill="#000"/>
<rect x="1147" y="120" width="1" height="31" fill="#000"/>
<rect x="1145" y="122" width="5" height="22" fill="#000"/>
<rect x="1155" y="125" width="1" height="18" fill="#000"/>
<rect x="1153" y="132" width="5" height="8" fill="#000"/>
<rect x="1163" y="136" width="1" height="41" fill="#000"/>
<rect x="1161" y="136" width="5" height="30" fill="#000"/>
<rect x="1171" y="159" width="1" height="35" fill="#000"/>
<rect x="1169" y="165" width="5" height="19" fill="#000"/>
<rect x="1179" y="170" width="1" height="77" fill="#000"/>
<rect x="1177" y="184" width="5" height="53" fill="#000"/>
<rect x="1187" y="234" width="1" height="22" fill="#000"/>
<rect x="1185" y="234" width="5" height="5" fill="#000"/>
<rect x="1195" y="227" width="1" height="18" fill="#000"/>
<rect x="1193" y="237" width="5" height="2" fill="#000"/>
<rect x="1203" y="261" width="1" height="28" fill="#000"/>
<rect x="1201" y="261" width="5" height="24" fill="#000"/>
<rect x="1211" y="274" width="1" height="29" fill="#000"/>
<rect x="1209" y="284" width="5" height="16" fill="#000"/>
<rect x="1219" y="297" width="1" height="54" fill="#000"/>
<rect x="1217" y="298" width="5" height="45" fill="#000"/>
<rect x="1227" y="338" width="1" height="59" fill="#000"/>
<rect x="1225" y="342" width="5" height="49" fill="#000"/>
<rect x="1235" y="365" width="1" height="32" fill="#000"/>
<rect x="1233.5" y="383.5" width="4" height="8" fill="#fff" stroke="#000"/>
<rect x="1243" y="377" width="1" height="31" fill="#000"/>
<rect x="1241" y="384" width="5" height="8" fill="#000"/>
<rect x="1251" y="388" width="1" height="16" fill="#000"/>
<rect x="1249" y="391" width="5" height="6" fill="#000"/>
<rect x="1259" y="364" width="1" height="47" fill="#000"/>
<rect x="1257" y="397" width="5" height="2" fill="#000"/>
<rect x="1267" y="348" width="1" height="50" fill="#000"/>
<rect x="1265.5" y="388.5" width="4" height="9" fill="#fff" stroke="#000"/>
<rect x="1275" y="366" width="1" height="32" fill="#000"/>
<rect x="1273.5" y="384.5" width="4" height="4" fill="#fff" stroke="#000"/>
<rect x="1283" y="380" width="1" height="33" fill="#000"/>
<rect x="1281" y="385" width="5" height="22" fill="#000"/>
<rect x="1291" y="388" width="1" height="30" fill="#000"/>
<rect x="1289.5" y="391.5" width="4" height="16" fill="#fff" stroke="#000"/>
<rect x="1299" y="365" width="1" height="25" fill="#000"/>
<rect x="1297.5" y="368.5" width="4" height="20" fill="#fff" stroke="#000"/>
<rect x="1307" y="365" width="1" height="37" fill="#000"/>
<rect x="1305" y="367" width="5" height="35" fill="#000"/>
<rect x="1315" y="393" width="1" height="28" fill="#000"/>
<rect x="1313" y="401" width="5" height="14" fill="#000"/>
<rect x="1323" y="384" width="1" height="35" fill="#000"/>
<rect x="1321.5" y="404.5" width="4" height="12" fill="#fff" stroke="#000"/>
<rect x="1331" y="367" width="1" height="70" fill="#000"/>
<rect x="1329.5" y="388.5" width="4" height="16" fill="#fff" stroke="#000"/>
<rect x="1339" y="359" width="1" height="40" fill="#000"/>
<rect x="1337.5" y="372.5" width="4" height="14" fill="#fff" stroke="#000"/>
<rect x="1347" y="318" width="1" height="43" fill="#000"/>
<rect x="1345.5" y="330.5" width="4" height="28" fill="#fff" stroke="#000"/>
<rect x="1355" y="313" width="1" height="59" fill="#000"/>
<rect x="1353" y="335" width="5" height="33" fill="#000"/>
<rect x="1363" y="361" width="1" height="155" fill="#000"/>
<rect x="1361" y="366" width="5" height="141" fill="#000"/>
<rect x="1371" y="488" width="1" height="44" fill="#000"/>
<rect x="1369" y="505" width="5" height="22" fill="#000"/>
<rect x="1379" y="498" width="1" height="34" fill="#000"/>
<rect x="1377" y="526" width="5" height="5" fill="#000"/>
<rect x="1387" y="511" width="1" height="21" fill="#000"/>
<rect x="1385.5" y="515.5" width="4" height="15" fill="#fff" stroke="#000"/>
</g>
<path d="M1114 79.5H1123" stroke="#ff0000" fill="none" shape-rendering="crispEdges"/>
<rect x="1052.5" y="70.5" width="61" height="18" fill="#fff" stroke="#ff0000" shape-rendering="crispEdges"/>
<text x="1083.0" y="85.7" font-size="16px" fill="#ff0000" text-anchor="middle">28336.4</text>
<path d="M1322 436.5H1331" stroke="#ff0000" fill="none" shape-rendering="crispEdges"/>
<rect x="1260.5" y="427.5" width="61" height="18" fill="#fff" stroke="#ff0000" shape-rendering="crispEdges"/>
<text x="1291.0" y="442.7" font-size="16px" fill="#ff0000" text-anchor="middle">26121.0</text>
<path d="M1370 530.5H1377" stroke="#ff0000" fill="none" shape-rendering="crispEdges"/>
<rect x="1308.5" y="521.5" width="61" height="18" fill="#fff" stroke="#ff0000" shape-rendering="crispEdges"/>
<text x="1339.0" y="536.7" font-size="16px" fill="#ff0000" text-anchor="middle">25539.7</text>
<path d="M1210 501.5H1220" stroke="#ff0000" fill="none" shape-rendering="crispEdges"/>
<rect x="1148.5" y="492.5" width="61" height="18" fill="#fff" stroke="#ff0000" shape-rendering="crispEdges"/>
<text x="1179.0" y="507.7" font-size="16px" fill="#ff0000" text-anchor="middle">25720.7</text>
<path d="M1167.5 253.0L1309.5 420.4" stroke="#ff0000" stroke-width="3.4" fill="none"/>
<path d="M1316.0 428.0L1303.3 423.1L1310.2 421.1L1313.2 414.6z" fill="#ff0000"/>
<path d="M1316.5 427.0L1346.7 328.1" stroke="#ff0000" stroke-width="3.4" fill="none"/>
<path d="M1349.6 318.5L1352.3 331.9L1347.0 327.1L1339.9 328.1z" fill="#ff0000"/>
<path d="M1350.0 320.0L1388.6 530.2" stroke="#ff0000" stroke-width="3.4" fill="none"/>
<path d="M1390.4 540.0L1381.8 529.4L1388.8 531.1L1394.6 527.0z" fill="#ff0000"/>
<path d="M1352.6 685.2L1403.2 737.2" stroke="#ff0000" stroke-width="3.2" fill="none"/>
<path d="M1409.5 743.6L1397.5 739.9L1403.9 737.9L1406.1 731.5z" fill="#ff0000"/>
<path d="M1340.9 846.0L1380.7 883.2" stroke="#ff0000" stroke-width="3.2" fill="none"/>
<path d="M1387.3 889.3L1375.2 886.2L1381.5 883.8L1383.4 877.4z" fill="#ff0000"/>
<rect x="1210.5" y="499.5" width="2" height="3" fill="#fff" stroke="#ff0000" shape-rendering="crispEdges"/>
<path d="M1391 24H1400L1395.5 28.8Z" fill="#c0c0c0"/>
<g shape-rendering="crispEdges">
<rect x="1647" y="45" width="3" height="1" fill="#000"/>
<rect x="1647" y="78" width="3" height="1" fill="#000"/>
<rect x="1647" y="111" width="3" height="1" fill="#000"/>
<rect x="1647" y="144" width="3" height="1" fill="#000"/>
<rect x="1647" y="177" width="3" height="1" fill="#000"/>
<rect x="1647" y="210" width="3" height="1" fill="#000"/>
<rect x="1647" y="243" width="3" height="1" fill="#000"/>
<rect x="1647" y="276" width="3" height="1" fill="#000"/>
<rect x="1647" y="309" width="3" height="1" fill="#000"/>
<rect x="1647" y="342" width="3" height="1" fill="#000"/>
<rect x="1647" y="375" width="3" height="1" fill="#000"/>
<rect x="1647" y="408" width="3" height="1" fill="#000"/>
<rect x="1647" y="440" width="3" height="1" fill="#000"/>
<rect x="1647" y="473" width="3" height="1" fill="#000"/>
<rect x="1647" y="506" width="3" height="1" fill="#000"/>
<rect x="1647" y="539" width="3" height="1" fill="#000"/>
<rect x="1647" y="572" width="3" height="1" fill="#000"/>
</g>
<text class="ax" transform="matrix(0.92 0 0 1 1652 48.9)" style="font-size:9.9px;">28546.0</text>
<text class="ax" transform="matrix(0.92 0 0 1 1652 81.8)" style="font-size:9.9px;">28342.0</text>
<text class="ax" transform="matrix(0.92 0 0 1 1652 114.8)" style="font-size:9.9px;">28138.0</text>
<text class="ax" transform="matrix(0.92 0 0 1 1652 147.7)" style="font-size:9.9px;">27934.0</text>
<text class="ax" transform="matrix(0.92 0 0 1 1652 180.6)" style="font-size:9.9px;">27730.0</text>
<text class="ax" transform="matrix(0.92 0 0 1 1652 213.5)" style="font-size:9.9px;">27526.0</text>
<text class="ax" transform="matrix(0.92 0 0 1 1652 246.5)" style="font-size:9.9px;">27316.0</text>
<text class="ax" transform="matrix(0.92 0 0 1 1652 279.4)" style="font-size:9.9px;">27112.0</text>
<text class="ax" transform="matrix(0.92 0 0 1 1652 312.3)" style="font-size:9.9px;">26908.0</text>
<text class="ax" transform="matrix(0.92 0 0 1 1652 345.3)" style="font-size:9.9px;">26704.0</text>
<text class="ax" transform="matrix(0.92 0 0 1 1652 378.2)" style="font-size:9.9px;">26500.0</text>
<text class="ax" transform="matrix(0.92 0 0 1 1652 411.1)" style="font-size:9.9px;">26296.0</text>
<text class="ax" transform="matrix(0.92 0 0 1 1652 444.1)" style="font-size:9.9px;">26092.0</text>
<text class="ax" transform="matrix(0.92 0 0 1 1652 477.0)" style="font-size:9.9px;">25888.0</text>
<text class="ax" transform="matrix(0.92 0 0 1 1652 509.9)" style="font-size:9.9px;">25684.0</text>
<text class="ax" transform="matrix(0.92 0 0 1 1652 542.9)" style="font-size:9.9px;">25480.0</text>
<text class="ax" transform="matrix(0.92 0 0 1 1652 575.8)" style="font-size:9.9px;">25276.0</text>
<rect x="1648" y="435" width="41" height="11" fill="#ff0000" shape-rendering="crispEdges"/>
<text class="ax" transform="matrix(0.92 0 0 1 1652 444.6)" style="font-size:9.9px;fill:#fff;stroke:#fff;stroke-width:0.15px">26093.6</text>
<rect x="1648" y="464" width="41" height="11" fill="#ff0000" shape-rendering="crispEdges"/>
<text class="ax" transform="matrix(0.92 0 0 1 1652 473.6)" style="font-size:9.9px;fill:#fff;stroke:#fff;stroke-width:0.15px">25912.6</text>
<rect x="1648" y="495" width="41" height="11" fill="#32cd32" shape-rendering="crispEdges"/>
<text class="ax" transform="matrix(0.92 0 0 1 1652 504.6)" style="font-size:9.9px;fill:#fff;stroke:#fff;stroke-width:0.15px">25720.7</text>
<rect x="1648" y="509" width="41" height="11" fill="#000" shape-rendering="crispEdges"/>
<text class="ax" transform="matrix(0.92 0 0 1 1652 518.6)" style="font-size:9.9px;fill:#fff;stroke:#fff;stroke-width:0.15px">25630.0</text>
<rect x="1648" y="538" width="41" height="11" fill="#0000ff" shape-rendering="crispEdges"/>
<text class="ax" transform="matrix(0.92 0 0 1 1652 547.6)" style="font-size:9.9px;fill:#fff;stroke:#fff;stroke-width:0.15px">25452.0</text>
<rect x="1648" y="567" width="41" height="11" fill="#0000ff" shape-rendering="crispEdges"/>
<text class="ax" transform="matrix(0.92 0 0 1 1652 576.6)" style="font-size:9.9px;fill:#fff;stroke:#fff;stroke-width:0.15px">25276.6</text>
<text class="ax" x="2" y="34.5" textLength="196.5" lengthAdjust="spacingAndGlyphs">JPN225-,H4  25545.0 25657.5 25537.5 25630.0</text>
<g shape-rendering="crispEdges">
<rect x="3" y="635" width="1" height="9" fill="#c0c0c0"/>
<rect x="11" y="635" width="1" height="18" fill="#c0c0c0"/>
<rect x="19" y="635" width="1" height="28" fill="#c0c0c0"/>
<rect x="27" y="635" width="1" height="39" fill="#c0c0c0"/>
<rect x="35" y="635" width="1" height="47" fill="#c0c0c0"/>
<rect x="43" y="635" width="1" height="55" fill="#c0c0c0"/>
<rect x="51" y="635" width="1" height="58" fill="#c0c0c0"/>
<rect x="59" y="635" width="1" height="60" fill="#c0c0c0"/>
<rect x="67" y="635" width="1" height="60" fill="#c0c0c0"/>
<rect x="75" y="635" width="1" height="60" fill="#c0c0c0"/>
<rect x="83" y="635" width="1" height="58" fill="#c0c0c0"/>
<rect x="91" y="635" width="1" height="58" fill="#c0c0c0"/>
<rect x="99" y="635" width="1" height="57" fill="#c0c0c0"/>
<rect x="107" y="635" width="1" height="52" fill="#c0c0c0"/>
<rect x="115" y="635" width="1" height="47" fill="#c0c0c0"/>
<rect x="123" y="635" width="1" height="42" fill="#c0c0c0"/>
<rect x="131" y="635" width="1" height="44" fill="#c0c0c0"/>
<rect x="139" y="635" width="1" height="47" fill="#c0c0c0"/>
<rect x="147" y="635" width="1" height="49" fill="#c0c0c0"/>
<rect x="155" y="635" width="1" height="49" fill="#c0c0c0"/>
<rect x="163" y="635" width="1" height="54" fill="#c0c0c0"/>
<rect x="171" y="635" width="1" height="55" fill="#c0c0c0"/>
<rect x="179" y="635" width="1" height="59" fill="#c0c0c0"/>
<rect x="187" y="635" width="1" height="58" fill="#c0c0c0"/>
<rect x="195" y="635" width="1" height="53" fill="#c0c0c0"/>
<rect x="203" y="635" width="1" height="39" fill="#c0c0c0"/>
<rect x="211" y="635" width="1" height="27" fill="#c0c0c0"/>
<rect x="219" y="635" width="1" height="14" fill="#c0c0c0"/>
<rect x="227" y="635" width="1" height="4" fill="#c0c0c0"/>
<rect x="235" y="630" width="1" height="5" fill="#c0c0c0"/>
<rect x="243" y="618" width="1" height="17" fill="#c0c0c0"/>
<rect x="251" y="616" width="1" height="19" fill="#c0c0c0"/>
<rect x="259" y="614" width="1" height="21" fill="#c0c0c0"/>
<rect x="267" y="615" width="1" height="20" fill="#c0c0c0"/>
<rect x="275" y="612" width="1" height="23" fill="#c0c0c0"/>
<rect x="283" y="613" width="1" height="22" fill="#c0c0c0"/>
<rect x="291" y="613" width="1" height="22" fill="#c0c0c0"/>
<rect x="299" y="612" width="1" height="23" fill="#c0c0c0"/>
<rect x="307" y="607" width="1" height="28" fill="#c0c0c0"/>
<rect x="315" y="606" width="1" height="29" fill="#c0c0c0"/>
<rect x="323" y="603" width="1" height="32" fill="#c0c0c0"/>
<rect x="331" y="600" width="1" height="35" fill="#c0c0c0"/>
<rect x="339" y="599" width="1" height="36" fill="#c0c0c0"/>
<rect x="347" y="598" width="1" height="37" fill="#c0c0c0"/>
<rect x="355" y="598" width="1" height="37" fill="#c0c0c0"/>
<rect x="363" y="601" width="1" height="34" fill="#c0c0c0"/>
<rect x="371" y="611" width="1" height="24" fill="#c0c0c0"/>
<rect x="379" y="621" width="1" height="14" fill="#c0c0c0"/>
<rect x="387" y="631" width="1" height="4" fill="#c0c0c0"/>
<rect x="395" y="634" width="1" height="1" fill="#c0c0c0"/>
<rect x="403" y="635" width="1" height="5" fill="#c0c0c0"/>
<rect x="411" y="635" width="1" height="7" fill="#c0c0c0"/>
<rect x="419" y="635" width="1" height="5" fill="#c0c0c0"/>
<rect x="427" y="635" width="1" height="7" fill="#c0c0c0"/>
<rect x="435" y="635" width="1" height="6" fill="#c0c0c0"/>
<rect x="443" y="635" width="1" height="1" fill="#c0c0c0"/>
<rect x="451" y="627" width="1" height="8" fill="#c0c0c0"/>
<rect x="459" y="625" width="1" height="10" fill="#c0c0c0"/>
<rect x="467" y="626" width="1" height="9" fill="#c0c0c0"/>
<rect x="475" y="624" width="1" height="11" fill="#c0c0c0"/>
<rect x="483" y="616" width="1" height="19" fill="#c0c0c0"/>
<rect x="491" y="612" width="1" height="23" fill="#c0c0c0"/>
<rect x="499" y="608" width="1" height="27" fill="#c0c0c0"/>
<rect x="507" y="605" width="1" height="30" fill="#c0c0c0"/>
<rect x="515" y="601" width="1" height="34" fill="#c0c0c0"/>
<rect x="523" y="598" width="1" height="37" fill="#c0c0c0"/>
<rect x="531" y="598" width="1" height="37" fill="#c0c0c0"/>
<rect x="539" y="601" width="1" height="34" fill="#c0c0c0"/>
<rect x="547" y="605" width="1" height="30" fill="#c0c0c0"/>
<rect x="555" y="614" width="1" height="21" fill="#c0c0c0"/>
<rect x="563" y="621" width="1" height="14" fill="#c0c0c0"/>
<rect x="571" y="624" width="1" height="11" fill="#c0c0c0"/>
<rect x="579" y="625" width="1" height="10" fill="#c0c0c0"/>
<rect x="587" y="625" width="1" height="10" fill="#c0c0c0"/>
<rect x="595" y="630" width="1" height="5" fill="#c0c0c0"/>
<rect x="603" y="631" width="1" height="4" fill="#c0c0c0"/>
<rect x="611" y="629" width="1" height="6" fill="#c0c0c0"/>
<rect x="619" y="629" width="1" height="6" fill="#c0c0c0"/>
<rect x="627" y="631" width="1" height="4" fill="#c0c0c0"/>
<rect x="635" y="632" width="1" height="3" fill="#c0c0c0"/>
<rect x="643" y="634" width="1" height="1" fill="#c0c0c0"/>
<rect x="651" y="630" width="1" height="5" fill="#c0c0c0"/>
<rect x="659" y="626" width="1" height="9" fill="#c0c0c0"/>
<rect x="667" y="624" width="1" height="11" fill="#c0c0c0"/>
<rect x="675" y="620" width="1" height="15" fill="#c0c0c0"/>
<rect x="683" y="623" width="1" height="12" fill="#c0c0c0"/>
<rect x="691" y="622" width="1" height="13" fill="#c0c0c0"/>
<rect x="699" y="619" width="1" height="16" fill="#c0c0c0"/>
<rect x="707" y="615" width="1" height="20" fill="#c0c0c0"/>
<rect x="715" y="612" width="1" height="23" fill="#c0c0c0"/>
<rect x="723" y="609" width="1" height="26" fill="#c0c0c0"/>
<rect x="731" y="604" width="1" height="31" fill="#c0c0c0"/>
<rect x="739" y="600" width="1" height="35" fill="#c0c0c0"/>
<rect x="747" y="596" width="1" height="39" fill="#c0c0c0"/>
<rect x="755" y="595" width="1" height="40" fill="#c0c0c0"/>
<rect x="763" y="594" width="1" height="41" fill="#c0c0c0"/>
<rect x="771" y="594" width="1" height="41" fill="#c0c0c0"/>
<rect x="779" y="594" width="1" height="41" fill="#c0c0c0"/>
<rect x="787" y="596" width="1" height="39" fill="#c0c0c0"/>
<rect x="795" y="599" width="1" height="36" fill="#c0c0c0"/>
<rect x="803" y="603" width="1" height="32" fill="#c0c0c0"/>
<rect x="811" y="606" width="1" height="29" fill="#c0c0c0"/>
<rect x="819" y="607" width="1" height="28" fill="#c0c0c0"/>
<rect x="827" y="605" width="1" height="30" fill="#c0c0c0"/>
<rect x="835" y="603" width="1" height="32" fill="#c0c0c0"/>
<rect x="843" y="602" width="1" height="33" fill="#c0c0c0"/>
<rect x="851" y="600" width="1" height="35" fill="#c0c0c0"/>
<rect x="859" y="601" width="1" height="34" fill="#c0c0c0"/>
<rect x="867" y="603" width="1" height="32" fill="#c0c0c0"/>
<rect x="875" y="604" width="1" height="31" fill="#c0c0c0"/>
<rect x="883" y="603" width="1" height="32" fill="#c0c0c0"/>
<rect x="891" y="604" width="1" height="31" fill="#c0c0c0"/>
<rect x="899" y="600" width="1" height="35" fill="#c0c0c0"/>
<rect x="907" y="596" width="1" height="39" fill="#c0c0c0"/>
<rect x="915" y="594" width="1" height="41" fill="#c0c0c0"/>
<rect x="923" y="594" width="1" height="41" fill="#c0c0c0"/>
<rect x="931" y="595" width="1" height="40" fill="#c0c0c0"/>
<rect x="939" y="598" width="1" height="37" fill="#c0c0c0"/>
<rect x="947" y="601" width="1" height="34" fill="#c0c0c0"/>
<rect x="955" y="604" width="1" height="31" fill="#c0c0c0"/>
<rect x="963" y="607" width="1" height="28" fill="#c0c0c0"/>
<rect x="971" y="602" width="1" height="33" fill="#c0c0c0"/>
<rect x="979" y="597" width="1" height="38" fill="#c0c0c0"/>
<rect x="987" y="591" width="1" height="44" fill="#c0c0c0"/>
<rect x="995" y="590" width="1" height="45" fill="#c0c0c0"/>
<rect x="1003" y="588" width="1" height="47" fill="#c0c0c0"/>
<rect x="1011" y="589" width="1" height="46" fill="#c0c0c0"/>
<rect x="1019" y="588" width="1" height="47" fill="#c0c0c0"/>
<rect x="1027" y="588" width="1" height="47" fill="#c0c0c0"/>
<rect x="1035" y="593" width="1" height="42" fill="#c0c0c0"/>
<rect x="1043" y="592" width="1" height="43" fill="#c0c0c0"/>
<rect x="1051" y="591" width="1" height="44" fill="#c0c0c0"/>
<rect x="1059" y="592" width="1" height="43" fill="#c0c0c0"/>
<rect x="1067" y="592" width="1" height="43" fill="#c0c0c0"/>
<rect x="1075" y="592" width="1" height="43" fill="#c0c0c0"/>
<rect x="1083" y="592" width="1" height="43" fill="#c0c0c0"/>
<rect x="1091" y="594" width="1" height="41" fill="#c0c0c0"/>
<rect x="1099" y="597" width="1" height="38" fill="#c0c0c0"/>
<rect x="1107" y="597" width="1" height="38" fill="#c0c0c0"/>
<rect x="1115" y="597" width="1" height="38" fill="#c0c0c0"/>
<rect x="1123" y="595" width="1" height="40" fill="#c0c0c0"/>
<rect x="1131" y="598" width="1" height="37" fill="#c0c0c0"/>
<rect x="1139" y="602" width="1" height="33" fill="#c0c0c0"/>
<rect x="1147" y="608" width="1" height="27" fill="#c0c0c0"/>
<rect x="1155" y="612" width="1" height="23" fill="#c0c0c0"/>
<rect x="1163" y="620" width="1" height="15" fill="#c0c0c0"/>
<rect x="1171" y="628" width="1" height="7" fill="#c0c0c0"/>
<rect x="1179" y="635" width="1" height="6" fill="#c0c0c0"/>
<rect x="1187" y="635" width="1" height="16" fill="#c0c0c0"/>
<rect x="1195" y="635" width="1" height="24" fill="#c0c0c0"/>
<rect x="1203" y="635" width="1" height="36" fill="#c0c0c0"/>
<rect x="1211" y="635" width="1" height="46" fill="#c0c0c0"/>
<rect x="1219" y="635" width="1" height="60" fill="#c0c0c0"/>
<rect x="1227" y="635" width="1" height="75" fill="#c0c0c0"/>
<rect x="1235" y="635" width="1" height="86" fill="#c0c0c0"/>
<rect x="1243" y="635" width="1" height="94" fill="#c0c0c0"/>
<rect x="1251" y="635" width="1" height="101" fill="#c0c0c0"/>
<rect x="1259" y="635" width="1" height="104" fill="#c0c0c0"/>
<rect x="1267" y="635" width="1" height="105" fill="#c0c0c0"/>
<rect x="1275" y="635" width="1" height="104" fill="#c0c0c0"/>
<rect x="1283" y="635" width="1" height="104" fill="#c0c0c0"/>
<rect x="1291" y="635" width="1" height="102" fill="#c0c0c0"/>
<rect x="1299" y="635" width="1" height="96" fill="#c0c0c0"/>
<rect x="1307" y="635" width="1" height="94" fill="#c0c0c0"/>
<rect x="1315" y="635" width="1" height="93" fill="#c0c0c0"/>
<rect x="1323" y="635" width="1" height="90" fill="#c0c0c0"/>
<rect x="1331" y="635" width="1" height="85" fill="#c0c0c0"/>
<rect x="1339" y="635" width="1" height="78" fill="#c0c0c0"/>
<rect x="1347" y="635" width="1" height="66" fill="#c0c0c0"/>
<rect x="1355" y="635" width="1" height="60" fill="#c0c0c0"/>
<rect x="1363" y="635" width="1" height="73" fill="#c0c0c0"/>
<rect x="1371" y="635" width="1" height="85" fill="#c0c0c0"/>
<rect x="1379" y="635" width="1" height="93" fill="#c0c0c0"/>
<rect x="1387" y="635" width="1" height="97" fill="#c0c0c0"/>
</g>
<polyline points="0.5,632.3 3.5,633.2 11.5,637.4 19.5,640.8 27.5,644.6 35.5,652.7 43.5,657.8 51.5,662.5 59.5,671.8 67.5,676.9 75.5,684.2 83.5,686.7 91.5,689.9 99.5,692.0 107.5,692.5 115.5,691.6 123.5,689.9 131.5,688.1 139.5,686.7 147.5,685.5 155.5,684.5 163.5,684.1 171.5,683.9 179.5,684.6 187.5,685.8 195.5,687.0 203.5,686.5 211.5,684.3 219.5,680.4 227.5,675.4 235.5,668.8 243.5,660.8 251.5,652.2 259.5,643.4 267.5,635.3 275.5,628.4 283.5,623.0 291.5,619.0 299.5,615.9 307.5,613.4 315.5,611.9 323.5,610.5 331.5,608.9 339.5,607.2 347.5,605.6 355.5,603.9 363.5,602.6 371.5,602.5 379.5,604.1 387.5,607.0 395.5,610.5 403.5,615.0 411.5,619.8 419.5,624.4 427.5,629.2 435.5,633.6 443.5,636.4 451.5,637.0 459.5,636.3 467.5,635.4 475.5,633.6 483.5,630.6 491.5,627.5 499.5,623.8 507.5,619.8 515.5,616.0 523.5,612.7 531.5,609.7 539.5,606.9 547.5,604.8 555.5,604.7 563.5,605.6 571.5,607.4 579.5,609.6 587.5,612.3 595.5,615.9 603.5,619.6 611.5,622.7 619.5,625.3 627.5,627.2 635.5,628.4 643.5,629.5 651.5,630.1 659.5,630.2 667.5,629.5 675.5,628.4 683.5,627.8 691.5,627.0 699.5,625.6 707.5,623.8 715.5,621.3 723.5,619.0 731.5,616.5 739.5,613.9 747.5,611.2 755.5,608.0 763.5,604.8 771.5,602.0 779.5,599.6 787.5,597.9 795.5,596.8 803.5,596.7 811.5,597.4 819.5,598.6 827.5,599.7 835.5,600.8 843.5,601.7 851.5,602.5 859.5,603.0 867.5,603.4 875.5,603.5 883.5,603.1 891.5,602.7 899.5,602.2 907.5,601.4 915.5,600.5 923.5,599.8 931.5,599.1 939.5,598.6 947.5,598.3 955.5,598.4 963.5,598.7 971.5,598.9 979.5,598.9 987.5,598.7 995.5,598.2 1003.5,597.5 1011.5,596.4 1019.5,594.9 1027.5,593.2 1035.5,591.7 1043.5,590.7 1051.5,590.1 1059.5,590.1 1067.5,590.3 1075.5,590.7 1083.5,591.1 1091.5,591.8 1099.5,592.8 1107.5,593.3 1115.5,593.7 1123.5,594.2 1131.5,594.9 1139.5,596.0 1147.5,597.8 1155.5,600.1 1163.5,602.8 1171.5,606.3 1179.5,611.1 1187.5,617.1 1195.5,624.2 1203.5,632.3 1211.5,641.1 1219.5,650.8 1227.5,661.7 1235.5,672.9 1243.5,684.3 1251.5,694.8 1259.5,704.6 1267.5,713.6 1275.5,721.2 1283.5,727.6 1291.5,732.3 1299.5,734.5 1307.5,735.4 1315.5,735.3 1323.5,734.1 1331.5,731.9 1339.5,728.9 1347.5,724.7 1355.5,719.8 1363.5,716.6 1371.5,715.4 1379.5,715.4 1387.5,715.8" fill="none" stroke="#ff0000" stroke-width="1" stroke-dasharray="3 3" shape-rendering="crispEdges"/>
<text class="ax" x="-8" y="590.5" textLength="132.9" lengthAdjust="spacingAndGlyphs">MACD(12,26,9) -382.20 -317.68</text>
<text class="ax" transform="matrix(0.92 0 0 1 1650 588.8)" style="font-size:9.9px;">216.31</text>
<text class="ax" transform="matrix(0.92 0 0 1 1650 639)" style="font-size:9.9px;">0.00</text>
<text class="ax" transform="matrix(0.92 0 0 1 1650 744.8)" style="font-size:9.9px;">-442.76</text>
<g shape-rendering="crispEdges"><rect x="1647" y="635" width="2" height="1" fill="#000"/><rect x="1647" y="579" width="2" height="1" fill="#000"/><rect x="1647" y="747" width="2" height="1" fill="#000"/></g>
<g shape-rendering="crispEdges">
<path d="M0 786.5H1646" stroke="#c0c0c0" stroke-dasharray="3 3" fill="none"/>
<path d="M0 837.5H1646" stroke="#c0c0c0" stroke-dasharray="3 3" fill="none"/>
<path d="M0 898.5H1646" stroke="#c0c0c0" stroke-dasharray="3 3" fill="none"/>
</g>
<polyline points="0,849 3.5,853.1 11.5,863.6 19.5,870.0 27.5,873.2 35.5,874.5 43.5,876.6 51.5,867.4 59.5,869.3 67.5,862.0 75.5,864.1 83.5,859.6 91.5,863.8 99.5,864.8 107.5,850.4 115.5,845.7 123.5,847.3 131.5,861.8 139.5,865.2 147.5,865.3 155.5,863.9 163.5,873.2 171.5,864.4 179.5,872.4 187.5,859.5 195.5,847.9 203.5,826.8 211.5,825.1 219.5,819.2 227.5,819.1 235.5,816.8 243.5,809.8 251.5,826.7 259.5,827.0 267.5,831.7 275.5,824.8 283.5,832.0 291.5,828.8 299.5,825.4 307.5,817.2 315.5,824.6 323.5,819.5 331.5,818.6 339.5,820.6 347.5,819.7 355.5,818.8 363.5,830.5 371.5,848.9 379.5,853.3 387.5,857.7 395.5,842.5 403.5,851.7 411.5,843.2 419.5,835.4 427.5,842.6 435.5,838.0 443.5,828.3 451.5,820.7 459.5,829.6 467.5,837.0 475.5,829.8 483.5,819.7 491.5,824.8 499.5,821.8 507.5,823.1 515.5,819.0 523.5,817.9 531.5,823.3 539.5,831.4 547.5,835.8 555.5,846.7 563.5,845.2 571.5,839.1 579.5,836.3 587.5,834.3 595.5,844.4 603.5,837.5 611.5,831.6 619.5,835.8 627.5,839.6 635.5,837.3 643.5,841.7 651.5,828.0 659.5,824.8 667.5,827.2 675.5,822.7 683.5,839.0 691.5,830.1 699.5,823.9 707.5,822.1 715.5,819.5 723.5,820.5 731.5,812.3 739.5,811.3 747.5,809.9 755.5,813.3 763.5,813.3 771.5,813.2 779.5,811.8 787.5,823.7 795.5,824.4 803.5,830.8 811.5,828.6 819.5,822.2 827.5,811.9 835.5,811.7 843.5,810.5 851.5,807.4 859.5,814.2 867.5,823.4 875.5,819.1 883.5,811.5 891.5,818.5 899.5,805.3 907.5,802.3 915.5,804.1 923.5,809.2 931.5,815.2 939.5,824.8 947.5,823.2 955.5,824.7 963.5,827.7 971.5,803.3 979.5,800.3 987.5,796.8 995.5,805.8 1003.5,804.8 1011.5,809.6 1019.5,804.5 1027.5,810.4 1035.5,826.9 1043.5,813.6 1051.5,810.9 1059.5,815.9 1067.5,812.4 1075.5,811.5 1083.5,812.1 1091.5,818.7 1099.5,819.2 1107.5,814.1 1115.5,809.0 1123.5,805.3 1131.5,822.2 1139.5,829.2 1147.5,840.5 1155.5,838.5 1163.5,850.2 1171.5,857.4 1179.5,872.7 1187.5,873.3 1195.5,873.3 1203.5,883.3 1211.5,886.0 1219.5,892.4 1227.5,897.7 1235.5,894.0 1243.5,894.9 1251.5,895.5 1259.5,895.7 1267.5,889.4 1275.5,886.8 1283.5,890.5 1291.5,880.6 1299.5,867.5 1307.5,875.3 1315.5,877.9 1323.5,872.3 1331.5,863.7 1339.5,855.9 1347.5,839.1 1355.5,850.3 1363.5,876.4 1371.5,878.8 1379.5,879.3 1387.5,873.9" fill="none" stroke="#1e90ff" stroke-width="1" shape-rendering="crispEdges"/>
<text class="ax" x="-9.5" y="762.5" textLength="68" lengthAdjust="spacingAndGlyphs">RSI(14) 28.6842</text>
<text class="ax" transform="matrix(0.92 0 0 1 1649 761)" style="font-size:9.9px;">100</text>
<text class="ax" transform="matrix(0.92 0 0 1 1649 790)" style="font-size:9.9px;">80</text>
<text class="ax" transform="matrix(0.92 0 0 1 1649 841)" style="font-size:9.9px;">50</text>
<text class="ax" transform="matrix(0.92 0 0 1 1649 902)" style="font-size:9.9px;">15</text>
<text class="ax" transform="matrix(0.92 0 0 1 1649 921)" style="font-size:9.9px;">0</text>
<g shape-rendering="crispEdges">
<rect x="51" y="925" width="1" height="3" fill="#000"/>
<rect x="115" y="925" width="1" height="3" fill="#000"/>
<rect x="179" y="925" width="1" height="3" fill="#000"/>
<rect x="243" y="925" width="1" height="3" fill="#000"/>
<rect x="307" y="925" width="1" height="3" fill="#000"/>
<rect x="371" y="925" width="1" height="3" fill="#000"/>
<rect x="435" y="925" width="1" height="3" fill="#000"/>
<rect x="499" y="925" width="1" height="3" fill="#000"/>
<rect x="563" y="925" width="1" height="3" fill="#000"/>
<rect x="627" y="925" width="1" height="3" fill="#000"/>
<rect x="691" y="925" width="1" height="3" fill="#000"/>
<rect x="755" y="925" width="1" height="3" fill="#000"/>
<rect x="819" y="925" width="1" height="3" fill="#000"/>
<rect x="883" y="925" width="1" height="3" fill="#000"/>
<rect x="947" y="925" width="1" height="3" fill="#000"/>
<rect x="1011" y="925" width="1" height="3" fill="#000"/>
<rect x="1075" y="925" width="1" height="3" fill="#000"/>
<rect x="1139" y="925" width="1" height="3" fill="#000"/>
<rect x="1203" y="925" width="1" height="3" fill="#000"/>
<rect x="1267" y="925" width="1" height="3" fill="#000"/>
<rect x="1331" y="925" width="1" height="3" fill="#000"/>
</g>
<text class="ax" transform="matrix(0.958 0 0 1 -14 937.3)" style="font-size:10px;">6 May 2022</text>
<text class="ax" transform="matrix(0.958 0 0 1 50 937.3)" style="font-size:10px;">9 May 23:30</text>
<text class="ax" transform="matrix(0.958 0 0 1 114 937.3)" style="font-size:10px;">11 May 04:00</text>
<text class="ax" transform="matrix(0.958 0 0 1 178 937.3)" style="font-size:10px;">12 May 14:55</text>
<text class="ax" transform="matrix(0.958 0 0 1 242 937.3)" style="font-size:10px;">15 May 23:30</text>
<text class="ax" transform="matrix(0.958 0 0 1 306 937.3)" style="font-size:10px;">17 May 04:00</text>
<text class="ax" transform="matrix(0.958 0 0 1 370 937.3)" style="font-size:10px;">18 May 14:55</text>
<text class="ax" transform="matrix(0.958 0 0 1 434 937.3)" style="font-size:10px;">19 May 23:30</text>
<text class="ax" transform="matrix(0.958 0 0 1 498 937.3)" style="font-size:10px;">23 May 04:00</text>
<text class="ax" transform="matrix(0.958 0 0 1 562 937.3)" style="font-size:10px;">24 May 14:55</text>
<text class="ax" transform="matrix(0.958 0 0 1 626 937.3)" style="font-size:10px;">25 May 23:30</text>
<text class="ax" transform="matrix(0.958 0 0 1 690 937.3)" style="font-size:10px;">27 May 04:00</text>
<text class="ax" transform="matrix(0.958 0 0 1 754 937.3)" style="font-size:10px;">30 May 14:55</text>
<text class="ax" transform="matrix(0.958 0 0 1 818 937.3)" style="font-size:10px;">31 May 23:30</text>
<text class="ax" transform="matrix(0.958 0 0 1 882 937.3)" style="font-size:10px;">2 Jun 04:00</text>
<text class="ax" transform="matrix(0.958 0 0 1 946 937.3)" style="font-size:10px;">3 Jun 14:55</text>
<text class="ax" transform="matrix(0.958 0 0 1 1010 937.3)" style="font-size:10px;">6 Jun 23:30</text>
<text class="ax" transform="matrix(0.958 0 0 1 1074 937.3)" style="font-size:10px;">8 Jun 04:00</text>
<text class="ax" transform="matrix(0.958 0 0 1 1138 937.3)" style="font-size:10px;">9 Jun 14:55</text>
<text class="ax" transform="matrix(0.958 0 0 1 1202 937.3)" style="font-size:10px;">12 Jun 23:30</text>
<text class="ax" transform="matrix(0.958 0 0 1 1266 937.3)" style="font-size:10px;">14 Jun 04:00</text>
<text class="ax" transform="matrix(0.958 0 0 1 1330 937.3)" style="font-size:10px;">15 Jun 14:55</text>
<g>
<rect x="0" y="43" width="42" height="25" fill="url(#gUp)"/>
<rect x="0" y="67" width="99" height="33" fill="url(#gLo)"/>
<rect x="157" y="43" width="52" height="25" fill="url(#gUp)"/>
<rect x="101" y="67" width="108" height="33" fill="url(#gLo)"/>
<g shape-rendering="crispEdges"><rect x="0" y="66" width="38" height="1" fill="#9a0a0a"/><rect x="0" y="67" width="38" height="1" fill="#f06a6a"/><rect x="161" y="66" width="44" height="1" fill="#9a0a0a"/><rect x="161" y="67" width="44" height="1" fill="#f06a6a"/></g>
<path d="M0.5 43.5H41.5V67.5H98.5V99.5H0.5" fill="none" stroke="#c00000" stroke-width="1" shape-rendering="crispEdges" opacity="0.8"/>
<path d="M101.5 99.5V67.5H157.5V43.5H208.5V99.5Z" fill="none" stroke="#c00000" stroke-width="1" shape-rendering="crispEdges" opacity="0.8"/>
<rect x="44.5" y="43.5" width="110" height="21" fill="#fff" stroke="#a8a8b0" shape-rendering="crispEdges"/>
<rect x="45" y="44" width="21" height="20" fill="url(#gSp)"/><rect x="66" y="44" width="1" height="20" fill="#a8a8b0"/>
<rect x="133" y="44" width="21" height="20" fill="url(#gSp)"/><rect x="133" y="44" width="1" height="20" fill="#a8a8b0"/>
<path d="M52.5 52h4l-2 2.5z" fill="#4a5ab8"/><path d="M141.5 55h5l-2.5-2.5z" fill="#4a5ab8"/>
<text x="130" y="58.5" font-size="12px" fill="#000" text-anchor="end">1.00</text>
<text x="2.5" y="59" font-size="12px" fill="#fff" textLength="25.5" lengthAdjust="spacingAndGlyphs">SELL</text>
<text x="170.8" y="59" font-size="12px" fill="#fff" textLength="23" lengthAdjust="spacingAndGlyphs">BUY</text>
<text x="6.4" y="94.7" font-size="11.6px" font-weight="bold" fill="#fff" textLength="34" lengthAdjust="spacingAndGlyphs">25628</text><circle cx="47.2" cy="92.4" r="2.3" fill="#fff"/>
<text x="51.5" y="94.7" font-size="32.5px" stroke="url(#gLoU)" stroke-width="0.5" fill="#fff" textLength="17.3" lengthAdjust="spacingAndGlyphs">5</text>
<text x="116.3" y="94.7" font-size="11.6px" font-weight="bold" fill="#fff" textLength="34.3" lengthAdjust="spacingAndGlyphs">25651</text><circle cx="158.4" cy="92.4" r="2.3" fill="#fff"/>
<text x="162.5" y="94.7" font-size="32.5px" stroke="url(#gLoU)" stroke-width="0.5" fill="#fff" textLength="17.3" lengthAdjust="spacingAndGlyphs">5</text>
</g>
</svg></body></html>
